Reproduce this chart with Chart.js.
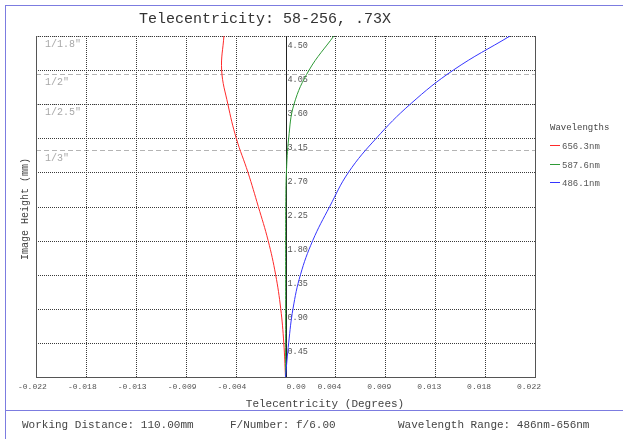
<!DOCTYPE html>
<html>
<head>
<meta charset="utf-8">
<script src="https://cdn.jsdelivr.net/npm/chart.js@4"></script>
<style>
html, body { margin: 0; padding: 0; background: #fff; }
</style>
</head>
<body>
<canvas id="telecentricity" width="623" height="439"></canvas>
<script>
// image height (mm) and telecentricity (degrees) per wavelength
var heights = [0, 0.45, 0.90, 1.35, 1.80, 2.25, 2.70, 3.15, 3.60, 4.05, 4.50];
var red656 = [0, -0.00015, -0.00042, -0.00087, -0.00153, -0.00240, -0.00331, -0.00434, -0.00508, -0.00563, -0.00543];
var green587 = [0, 0.00001, 0.00001, 0.00001, 0.00001, 0.00002, 0.00008, 0.00028, 0.00075, 0.00208, 0.00426];
var blue486 = [0, 0.00028, 0.00066, 0.00132, 0.00240, 0.00390, 0.00555, 0.00800, 0.01100, 0.01480, 0.01980];

var wavelengths = ['656.3nm', '587.6nm', '486.1nm'];
var colors = ['#ff2a2a', '#2e9a36', '#3535ff'];

var xTicks = [-0.022, -0.0176, -0.0132, -0.0088, -0.0044, 0, 0.0044, 0.0088, 0.0132, 0.0176, 0.022];
var xTickLabels = ['-0.022', '-0.018', '-0.013', '-0.009', '-0.004', '0.00', '0.004', '0.009', '0.013', '0.018', '0.022'];
var yTicks = [0.45, 0.90, 1.35, 1.80, 2.25, 2.70, 3.15, 3.60, 4.05, 4.50];
var yTickLabels = ['0.45', '0.90', '1.35', '1.80', '2.25', '2.70', '3.15', '3.60', '4.05', '4.50'];

var sensors = ['1/1.8"', '1/2"', '1/2.5"', '1/3"'];
var sensorHeights = [4.5, 4.0, 3.6, 3.0];

var infoTexts = ['Working Distance: 110.00mm', 'F/Number: f/6.00', 'Wavelength Range: 486nm-656nm'];

function points(xs) {
   return xs.map(function(v, i) {
      return {x: v, y: heights[i]};
   });
}

var MONO = '"Liberation Mono", "DejaVu Sans Mono", monospace';

function line(ctx, x1, y1, x2, y2) {
   ctx.beginPath();
   ctx.moveTo(x1, y1);
   ctx.lineTo(x2, y2);
   ctx.stroke();
}

var decorations = {
   id: 'decorations',
   beforeDraw: function(chart) {
      var ctx = chart.ctx, a = chart.chartArea;
      var xs = chart.scales.x, ys = chart.scales.y;
      ctx.save();
      ctx.lineWidth = 1;

      // outer frame
      ctx.fillStyle = '#7c7ce0';
      ctx.fillRect(5, 5, 1, 434);
      ctx.fillRect(5, 5, 618, 1);
      ctx.fillRect(5, 410, 618, 1);

      // sensor size lines
      ctx.strokeStyle = '#b4b4b4';
      ctx.setLineDash([5, 3]);
      sensorHeights.forEach(function(h) {
         var py = Math.round(ys.getPixelForValue(h)) + 0.5;
         line(ctx, a.left, py, a.right, py);
      });

      // dotted grid
      ctx.strokeStyle = '#3a3a3a';
      ctx.setLineDash([1, 1]);
      xTicks.forEach(function(v) {
         var px = Math.round(xs.getPixelForValue(v)) + 0.5;
         line(ctx, px, a.top, px, a.bottom);
      });
      yTicks.forEach(function(v) {
         var py = Math.round(ys.getPixelForValue(v)) + 0.5;
         line(ctx, a.left, py, a.right, py);
      });
      ctx.setLineDash([]);

      // zero line
      var zx = Math.round(xs.getPixelForValue(0));
      ctx.fillStyle = '#222';
      ctx.fillRect(zx, Math.round(a.top), 1, Math.round(a.bottom - a.top));

      // y tick labels inside the plot
      ctx.fillStyle = '#555';
      ctx.font = '8.5px ' + MONO;
      ctx.textAlign = 'left';
      ctx.textBaseline = 'alphabetic';
      yTicks.forEach(function(v, i) {
         ctx.fillText(yTickLabels[i], zx + 1.5, ys.getPixelForValue(v) + 11.5);
      });

      // sensor labels
      ctx.fillStyle = '#a8a8a8';
      ctx.font = '10px ' + MONO;
      sensorHeights.forEach(function(h, i) {
         ctx.fillText(sensors[i], a.left + 9, ys.getPixelForValue(h) + 11);
      });

      // x tick labels
      ctx.fillStyle = '#555';
      ctx.font = '8px ' + MONO;
      xTicks.forEach(function(v, i) {
         var px = xs.getPixelForValue(v);
         ctx.fillText(xTickLabels[i], v === 0 ? px + 1 : px - 18, a.bottom + 12);
      });

      // title
      ctx.fillStyle = '#333';
      ctx.font = '15px ' + MONO;
      ctx.fillText('Telecentricity: 58-256, .73X', 139, 23);

      // axis titles
      ctx.fillStyle = '#444';
      ctx.font = '11px ' + MONO;
      ctx.textAlign = 'center';
      ctx.fillText('Telecentricity (Degrees)', 325, 407);
      ctx.save();
      ctx.translate(27.5, 209);
      ctx.rotate(-Math.PI / 2);
      ctx.font = '10px ' + MONO;
      ctx.fillText('Image Height (mm)', 0, 0);
      ctx.restore();

      // footer info
      ctx.textAlign = 'left';
      ctx.font = '11px ' + MONO;
      ctx.fillStyle = '#444';
      ctx.fillText(infoTexts[0], 22, 428);
      ctx.fillText(infoTexts[1], 230, 428);
      ctx.fillText(infoTexts[2], 398, 428);

      // legend
      ctx.font = '9px ' + MONO;
      ctx.fillStyle = '#444';
      ctx.fillText('Wavelengths', 550, 130);
      wavelengths.forEach(function(name, i) {
         var y = Math.round(145 + i * 18.5);
         ctx.fillStyle = colors[i];
         ctx.fillRect(550, y, 10, 1);
         ctx.fillStyle = '#555';
         ctx.fillText(name, 562, y + 3.5);
      });
      ctx.restore();
   },
   afterDatasetsDraw: function(chart) {
      // solid plot frame on top of the curves
      var ctx = chart.ctx, a = chart.chartArea;
      var l = Math.round(a.left), r = Math.round(a.right), b = Math.round(a.bottom), t = Math.round(a.top);
      ctx.save();
      ctx.fillStyle = '#555';
      ctx.fillRect(l, t, 1, b - t + 1);
      ctx.fillRect(r, t, 1, b - t + 1);
      ctx.fillRect(l, b, r - l + 1, 1);
      ctx.restore();
   }
};

var ctx = document.getElementById('telecentricity').getContext('2d');
var config = {
   type: 'scatter',
   data: {
      datasets: [{
         label: wavelengths[2],
         data: points(blue486),
         borderColor: colors[2]
      }, {
         label: wavelengths[1],
         data: points(green587),
         borderColor: colors[1]
      }, {
         label: wavelengths[0],
         data: points(red656),
         borderColor: colors[0]
      }]
   },
   options: {
      responsive: false,
      animation: false,
      showLine: true,
      layout: {padding: {left: 36, top: 36, right: 88, bottom: 62}},
      elements: {
         point: {radius: 0, hoverRadius: 0},
         line: {borderWidth: 1, tension: 0.4, fill: false}
      },
      scales: {
         x: {type: 'linear', display: false, min: -0.022, max: 0.022},
         y: {type: 'linear', display: false, min: 0, max: 4.5}
      },
      plugins: {
         legend: {display: false},
         tooltip: {enabled: false},
         title: {display: false}
      }
   },
   plugins: [decorations]
};

var chart = new Chart(ctx, config);
</script>
</body>
</html>
